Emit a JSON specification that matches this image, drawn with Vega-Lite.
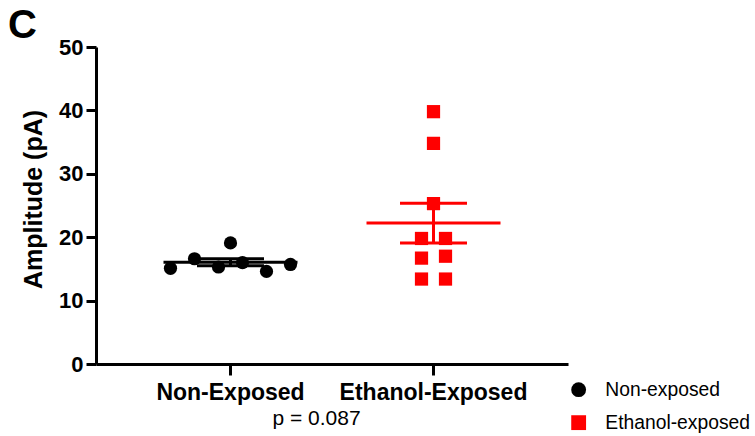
{
  "$schema": "https://vega.github.io/schema/vega-lite/v6.json",
  "width": 472,
  "height": 317,
  "autosize": "none",
  "padding": {"left": 96, "top": 47, "right": 187, "bottom": 72},
  "background": "white",
  "config": {"view": {"stroke": null}, "font": "Liberation Sans"},
  "title": {"text": "C", "anchor": "start", "frame": "group", "fontSize": 40, "fontWeight": "bold", "font": "Liberation Sans", "color": "black", "dx": -88, "dy": 12, "offset": 2},
  "data": {"values": [
    {"group": "Non-Exposed", "slot": -5, "amp": 15.1},
    {"group": "Non-Exposed", "slot": -3, "amp": 16.6},
    {"group": "Non-Exposed", "slot": -1, "amp": 15.3},
    {"group": "Non-Exposed", "slot": 0, "amp": 19.1},
    {"group": "Non-Exposed", "slot": 1, "amp": 16.0},
    {"group": "Non-Exposed", "slot": 3, "amp": 14.6},
    {"group": "Non-Exposed", "slot": 5, "amp": 15.7},
    {"group": "Ethanol-Exposed", "slot": 0, "amp": 39.8},
    {"group": "Ethanol-Exposed", "slot": 0, "amp": 34.8},
    {"group": "Ethanol-Exposed", "slot": 0, "amp": 25.3},
    {"group": "Ethanol-Exposed", "slot": -1, "amp": 19.8},
    {"group": "Ethanol-Exposed", "slot": 1, "amp": 19.8},
    {"group": "Ethanol-Exposed", "slot": -1, "amp": 16.7},
    {"group": "Ethanol-Exposed", "slot": 1, "amp": 17.0},
    {"group": "Ethanol-Exposed", "slot": -1, "amp": 13.4},
    {"group": "Ethanol-Exposed", "slot": 1, "amp": 13.4}
  ]},
  "encoding": {
    "x": {
      "field": "group", "type": "nominal",
      "sort": ["Non-Exposed", "Ethanol-Exposed"],
      "scale": {"domain": ["Non-Exposed", "Ethanol-Exposed"], "paddingInner": 0.2, "paddingOuter": 0.2625},
      "axis": {
        "labelAngle": 0, "labelFontSize": 23, "labelFontWeight": "bold", "labelColor": "black", "labelPadding": 6, "labelLimit": 0,
        "tickSize": 11, "tickWidth": 3, "tickColor": "black", "domainColor": "black", "domainWidth": 3,
        "title": "p = 0.087", "titleFontSize": 21, "titleFontWeight": "normal", "titleColor": "black",
        "titleX": 220, "titlePadding": 3
      }
    },
    "y": {
      "field": "amp", "type": "quantitative",
      "scale": {"domain": [0, 50], "nice": false},
      "axis": {
        "values": [0, 10, 20, 30, 40, 50], "grid": false,
        "labelFontSize": 22, "labelFontWeight": "bold", "labelColor": "black", "labelPadding": 3,
        "tickSize": 10, "tickWidth": 3, "tickColor": "black", "domainColor": "black", "domainWidth": 3,
        "title": "Amplitude (pA)", "titleFontSize": 25, "titleFontWeight": "bold", "titleColor": "black",
        "titleX": -50, "titleY": 152
      }
    }
  },
  "layer": [
    {
      "transform": [
        {"aggregate": [{"op": "mean", "field": "amp", "as": "m"}, {"op": "stderr", "field": "amp", "as": "se"}], "groupby": ["group"]},
        {"calculate": "datum.m - datum.se", "as": "lo"},
        {"calculate": "datum.m + datum.se", "as": "hi"}
      ],
      "encoding": {
        "color": {"condition": {"test": "datum.group == 'Non-Exposed'", "value": "#000000"}, "value": "#ff0000"}
      },
      "layer": [
        {"mark": {"type": "tick", "size": 134, "thickness": 3, "opacity": 1},
         "encoding": {"y": {"field": "m", "type": "quantitative"}}},
        {"mark": {"type": "rule", "strokeWidth": 3},
         "encoding": {"y": {"field": "lo", "type": "quantitative"}, "y2": {"field": "hi"}}},
        {"mark": {"type": "tick", "size": 67, "thickness": 3, "opacity": 1},
         "encoding": {"y": {"field": "lo", "type": "quantitative"}}},
        {"mark": {"type": "tick", "size": 67, "thickness": 3, "opacity": 1},
         "encoding": {"y": {"field": "hi", "type": "quantitative"}}}
      ]
    },
    {
      "mark": {"type": "point", "filled": true, "size": 175, "opacity": 1, "strokeWidth": 0},
      "encoding": {
        "xOffset": {"field": "slot", "type": "quantitative", "scale": {"domain": [-5, 5], "range": [21.2, 141.2]}},
        "color": {
          "field": "group", "type": "nominal",
          "scale": {"domain": ["Non-Exposed", "Ethanol-Exposed"], "range": ["#000000", "#ff0000"]},
          "legend": {
            "title": null, "orient": "none", "legendX": 473, "legendY": 333, "padding": 0,
            "labelFontSize": 19.3, "labelFont": "Liberation Sans", "labelColor": "black", "symbolSize": 220, "labelOffset": 17, "rowPadding": 13,
            "symbolOpacity": 1, "symbolStrokeWidth": 0,
            "labelExpr": "datum.label == 'Non-Exposed' ? 'Non-exposed' : 'Ethanol-exposed'"
          }
        },
        "shape": {
          "field": "group", "type": "nominal",
          "scale": {"domain": ["Non-Exposed", "Ethanol-Exposed"], "range": ["circle", "square"]},
          "legend": {
            "title": null, "orient": "none", "legendX": 473, "legendY": 333, "padding": 0,
            "labelFontSize": 19.3, "labelFont": "Liberation Sans", "labelColor": "black", "symbolSize": 220, "labelOffset": 17, "rowPadding": 13,
            "symbolOpacity": 1, "symbolStrokeWidth": 0,
            "labelExpr": "datum.label == 'Non-Exposed' ? 'Non-exposed' : 'Ethanol-exposed'"
          }
        }
      }
    }
  ]
}
